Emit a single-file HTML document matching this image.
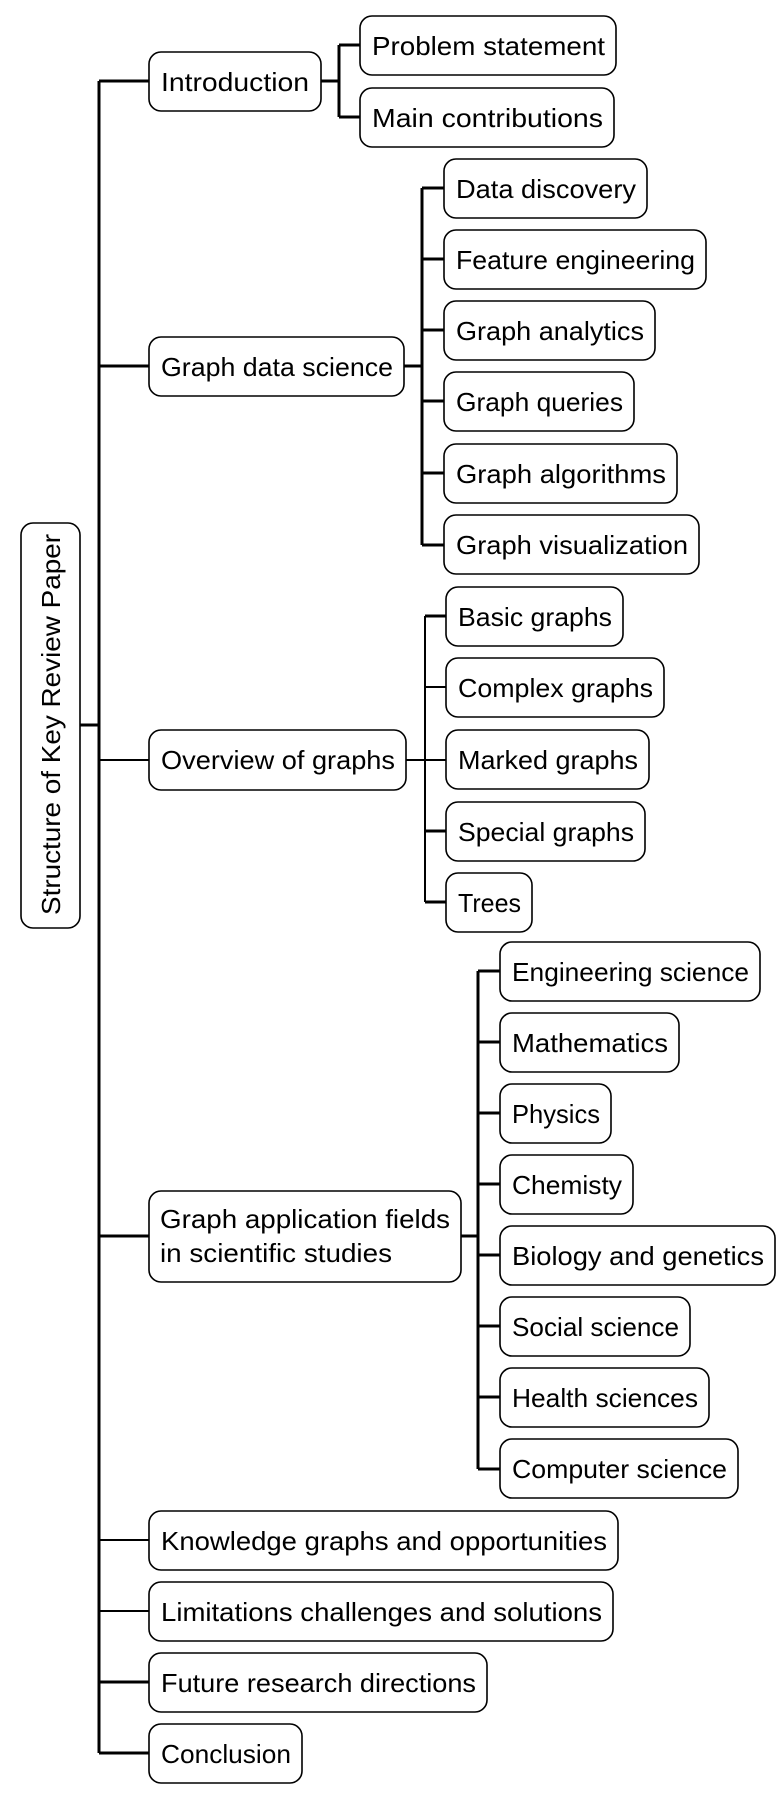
<!DOCTYPE html>
<html><head><meta charset="utf-8"><style>
html,body{margin:0;padding:0;background:#fff}
svg{display:block}
text{font-family:"Liberation Sans",sans-serif;font-size:26px;fill:#000}
rect{fill:#fff;stroke:#000;stroke-width:1.6}
.k{stroke:#000;stroke-width:3;fill:none}
.t{stroke:#000;stroke-width:2;fill:none}
</style></head><body>
<svg width="780" height="1797" viewBox="0 0 780 1797" xmlns="http://www.w3.org/2000/svg">
<!-- trunk -->
<path class="k" d="M99 81V1753"/>
<path class="k" d="M80 725H99"/>
<path class="k" d="M99 81H149M99 366H149M99 1236H149M99 1682H149M99 1753H149"/>
<path class="t" d="M99 760H149M99 1540H149M99 1611H149"/>
<!-- root -->
<rect x="21" y="523" width="59" height="405" rx="12"/>
<text transform="translate(60,915) rotate(-90)" textLength="381" lengthAdjust="spacingAndGlyphs">Structure of Key Review Paper</text>
<!-- Introduction -->
<path class="k" d="M321 81H339M339 45V117M339 45H360M339 117H360"/>
<rect x="149" y="52" width="172" height="59" rx="12"/>
<text x="161" y="91" textLength="148" lengthAdjust="spacingAndGlyphs">Introduction</text>
<rect x="360" y="16" width="256" height="59" rx="12"/>
<text x="372" y="55" textLength="233" lengthAdjust="spacingAndGlyphs">Problem statement</text>
<rect x="360" y="88" width="254" height="59" rx="12"/>
<text x="372" y="127" textLength="231" lengthAdjust="spacingAndGlyphs">Main contributions</text>
<!-- GDS -->
<path class="k" d="M404 366H422M422 188V545M422 188H444M422 259H444M422 330H444M422 401H444M422 473H444M422 545H444"/>
<rect x="149" y="337" width="255" height="59" rx="12"/>
<text x="161" y="376" textLength="232" lengthAdjust="spacingAndGlyphs">Graph data science</text>
<rect x="444" y="159" width="203" height="59" rx="12"/>
<text x="456" y="198" textLength="180" lengthAdjust="spacingAndGlyphs">Data discovery</text>
<rect x="444" y="230" width="262" height="59" rx="12"/>
<text x="456" y="269" textLength="239" lengthAdjust="spacingAndGlyphs">Feature engineering</text>
<rect x="444" y="301" width="211" height="59" rx="12"/>
<text x="456" y="340" textLength="188" lengthAdjust="spacingAndGlyphs">Graph analytics</text>
<rect x="444" y="372" width="190" height="59" rx="12"/>
<text x="456" y="411" textLength="167" lengthAdjust="spacingAndGlyphs">Graph queries</text>
<rect x="444" y="444" width="233" height="59" rx="12"/>
<text x="456" y="483" textLength="210" lengthAdjust="spacingAndGlyphs">Graph algorithms</text>
<rect x="444" y="515" width="255" height="59" rx="12"/>
<text x="456" y="554" textLength="232" lengthAdjust="spacingAndGlyphs">Graph visualization</text>
<!-- Overview -->
<path class="t" d="M406 760H446M425 616V902M425 687H446M425 760H446"/>
<path class="k" d="M425 616H446M425 831H446M425 902H446"/>
<rect x="149" y="730" width="257" height="60" rx="12"/>
<text x="161" y="769" textLength="234" lengthAdjust="spacingAndGlyphs">Overview of graphs</text>
<rect x="446" y="587" width="177" height="59" rx="12"/>
<text x="458" y="626" textLength="154" lengthAdjust="spacingAndGlyphs">Basic graphs</text>
<rect x="446" y="658" width="218" height="59" rx="12"/>
<text x="458" y="697" textLength="195" lengthAdjust="spacingAndGlyphs">Complex graphs</text>
<rect x="446" y="730" width="203" height="59" rx="12"/>
<text x="458" y="769" textLength="180" lengthAdjust="spacingAndGlyphs">Marked graphs</text>
<rect x="446" y="802" width="199" height="59" rx="12"/>
<text x="458" y="841" textLength="176" lengthAdjust="spacingAndGlyphs">Special graphs</text>
<rect x="446" y="873" width="86" height="59" rx="12"/>
<text x="458" y="912" textLength="63" lengthAdjust="spacingAndGlyphs">Trees</text>
<!-- Applications -->
<path class="k" d="M461 1236H478M478 971V1469M478 971H500M478 1042H500M478 1113H500M478 1184H500M478 1255H500M478 1326H500M478 1397H500M478 1469H500"/>
<rect x="149" y="1191" width="312" height="91" rx="12"/>
<text x="160" y="1228" textLength="290" lengthAdjust="spacingAndGlyphs">Graph application fields</text>
<text x="160" y="1262" textLength="232" lengthAdjust="spacingAndGlyphs">in scientific studies</text>
<rect x="500" y="942" width="260" height="59" rx="12"/>
<text x="512" y="981" textLength="237" lengthAdjust="spacingAndGlyphs">Engineering science</text>
<rect x="500" y="1013" width="179" height="59" rx="12"/>
<text x="512" y="1052" textLength="156" lengthAdjust="spacingAndGlyphs">Mathematics</text>
<rect x="500" y="1084" width="111" height="59" rx="12"/>
<text x="512" y="1123" textLength="88" lengthAdjust="spacingAndGlyphs">Physics</text>
<rect x="500" y="1155" width="133" height="59" rx="12"/>
<text x="512" y="1194" textLength="110" lengthAdjust="spacingAndGlyphs">Chemisty</text>
<rect x="500" y="1226" width="275" height="59" rx="12"/>
<text x="512" y="1265" textLength="252" lengthAdjust="spacingAndGlyphs">Biology and genetics</text>
<rect x="500" y="1297" width="190" height="59" rx="12"/>
<text x="512" y="1336" textLength="167" lengthAdjust="spacingAndGlyphs">Social science</text>
<rect x="500" y="1368" width="209" height="59" rx="12"/>
<text x="512" y="1407" textLength="186" lengthAdjust="spacingAndGlyphs">Health sciences</text>
<rect x="500" y="1439" width="238" height="59" rx="12"/>
<text x="512" y="1478" textLength="215" lengthAdjust="spacingAndGlyphs">Computer science</text>
<!-- bottom -->
<rect x="149" y="1511" width="469" height="59" rx="12"/>
<text x="161" y="1550" textLength="446" lengthAdjust="spacingAndGlyphs">Knowledge graphs and opportunities</text>
<rect x="149" y="1582" width="464" height="59" rx="12"/>
<text x="161" y="1621" textLength="441" lengthAdjust="spacingAndGlyphs">Limitations challenges and solutions</text>
<rect x="149" y="1653" width="338" height="59" rx="12"/>
<text x="161" y="1692" textLength="315" lengthAdjust="spacingAndGlyphs">Future research directions</text>
<rect x="149" y="1724" width="153" height="59" rx="12"/>
<text x="161" y="1763" textLength="130" lengthAdjust="spacingAndGlyphs">Conclusion</text>
</svg>
</body></html>
